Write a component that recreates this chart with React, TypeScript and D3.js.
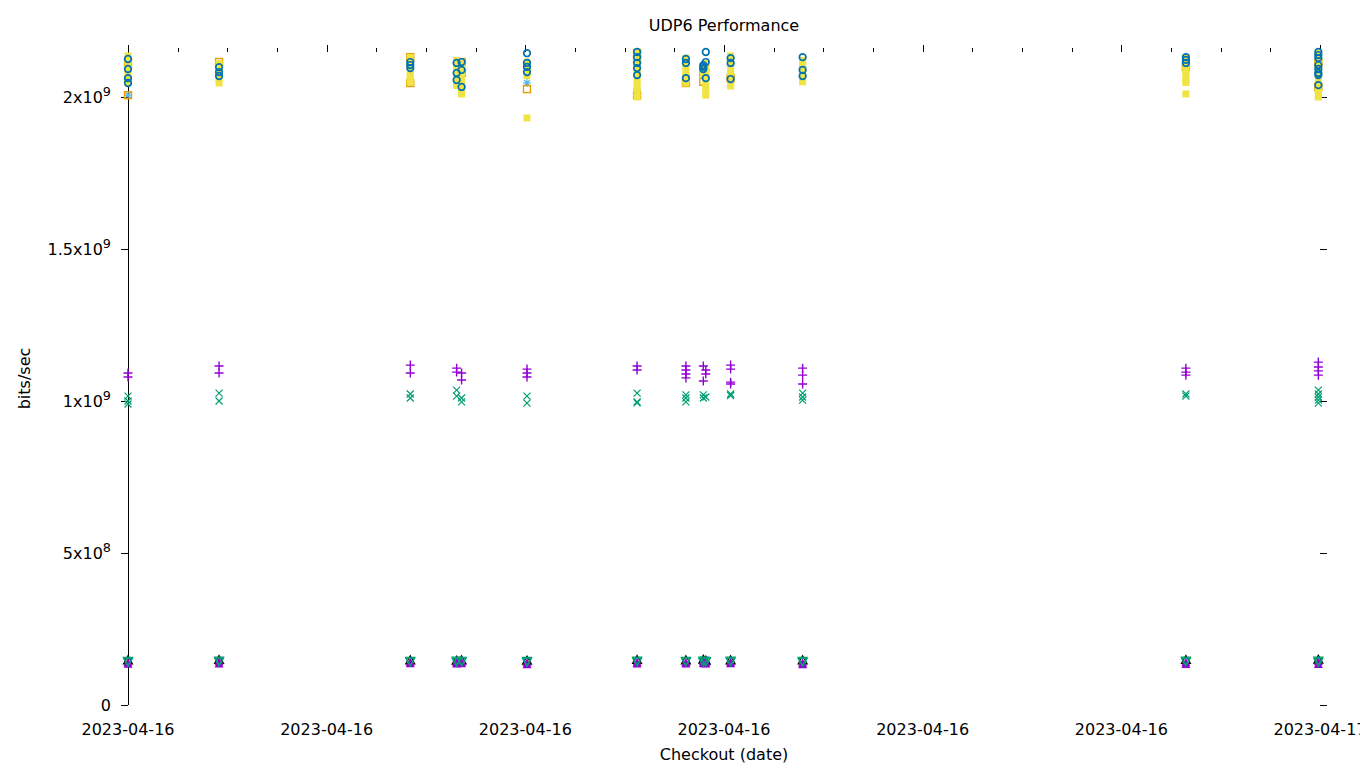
import * as d3 from 'd3';
import React, { Component } from 'react';

// checkout times (all on 2023-04-16)
const runTimes = [
    '00:00', '01:50', '05:41', '06:37', '06:43', '08:02', '10:15',
    '11:14', '11:35', '11:38', '12:08', '13:35', '21:18', '23:58',
];

// one row per checkout time, several runs each
const plusSeries = [
    [1.092e9, 1.079e9], [1.115e9, 1.092e9], [1.118e9, 1.092e9], [1.108e9, 1.095e9],
    [1.092e9, 1.069e9], [1.105e9, 1.092e9, 1.079e9], [1.115e9, 1.102e9],
    [1.115e9, 1.102e9, 1.089e9, 1.076e9], [1.115e9, 1.066e9], [1.102e9, 1.089e9],
    [1.118e9, 1.105e9, 1.062e9, 1.056e9], [1.108e9, 1.085e9, 1.056e9],
    [1.108e9, 1.095e9, 1.085e9], [1.128e9, 1.112e9, 1.099e9, 1.085e9],
];
const crossSeries = [
    [1.016e9, 1.0e9, 0.99e9], [1.026e9, 1.0e9], [1.023e9, 1.01e9], [1.036e9, 1.016e9],
    [1.01e9, 0.997e9], [1.016e9, 0.993e9], [1.026e9, 0.997e9, 0.994e9],
    [1.02e9, 1.01e9, 0.997e9], [1.02e9, 1.01e9], [1.013e9], [1.023e9, 1.018e9],
    [1.026e9, 1.013e9, 1.003e9], [1.023e9, 1.016e9],
    [1.036e9, 1.023e9, 1.013e9, 1.003e9, 0.993e9],
];
const starSeries = [
    [2.046e9, 2.006e9], [2.105e9], [2.046e9], [2.056e9], [2.07e9], [2.046e9],
    [2.026e9, 2.01e9], [2.072e9, 2.049e9], [2.07e9], [2.09e9], [2.105e9], [2.1e9],
    [2.09e9], [2.08e9],
];
const openSquareSeries = [
    [2.115e9, 2.006e9], [2.115e9], [2.131e9, 2.046e9], [], [2.115e9, 2.08e9], [2.026e9],
    [2.145e9, 2.125e9, 2.006e9], [2.046e9], [2.079e9, 2.05e9], [], [2.062e9], [],
    [2.099e9], [2.112e9, 2.033e9],
];
const filledSquareSeries = [
    [2.135e9, 2.12e9, 2.105e9, 2.09e9, 2.075e9, 2.06e9, 2.048e9],
    [2.11e9, 2.098e9, 2.085e9, 2.072e9, 2.06e9, 2.046e9],
    [2.13e9, 2.115e9, 2.1e9, 2.085e9, 2.07e9, 2.058e9, 2.048e9],
    [2.12e9, 2.105e9, 2.09e9, 2.075e9, 2.06e9, 2.045e9, 2.038e9],
    [2.11e9, 2.095e9, 2.08e9, 2.065e9, 2.05e9, 2.035e9, 2.02e9, 2.01e9],
    [2.115e9, 2.1e9, 2.085e9, 2.07e9, 1.931e9],
    [2.148e9, 2.135e9, 2.12e9, 2.105e9, 2.09e9, 2.075e9, 2.06e9, 2.045e9, 2.03e9, 2.015e9, 2.0e9],
    [2.128e9, 2.115e9, 2.1e9, 2.085e9, 2.07e9, 2.058e9, 2.046e9],
    [2.09e9, 2.075e9],
    [2.11e9, 2.095e9, 2.08e9, 2.065e9, 2.05e9, 2.035e9, 2.02e9, 2.006e9],
    [2.135e9, 2.12e9, 2.105e9, 2.09e9, 2.075e9, 2.06e9, 2.045e9, 2.036e9],
    [2.12e9, 2.105e9, 2.09e9, 2.075e9, 2.06e9, 2.05e9],
    [2.13e9, 2.115e9, 2.1e9, 2.085e9, 2.07e9, 2.055e9, 2.048e9, 2.01e9],
    [2.145e9, 2.13e9, 2.115e9, 2.1e9, 2.085e9, 2.07e9, 2.055e9, 2.04e9, 2.025e9, 2.01e9, 2.0e9],
];
const circleSeries = [
    [2.125e9, 2.092e9, 2.062e9, 2.046e9], [2.098e9, 2.082e9, 2.069e9],
    [2.115e9, 2.105e9, 2.095e9], [2.112e9, 2.079e9, 2.056e9], [2.115e9, 2.089e9, 2.033e9],
    [2.144e9, 2.112e9, 2.099e9, 2.082e9], [2.148e9, 2.131e9, 2.112e9, 2.095e9, 2.072e9],
    [2.125e9, 2.112e9, 2.062e9], [2.105e9, 2.099e9, 2.092e9], [2.148e9, 2.115e9, 2.062e9],
    [2.128e9, 2.112e9, 2.059e9], [2.131e9, 2.089e9, 2.069e9], [2.131e9, 2.122e9, 2.112e9],
    [2.148e9, 2.138e9, 2.128e9, 2.105e9, 2.092e9, 2.079e9, 2.072e9, 2.039e9],
];
const triangleSeries = [
    [1.47e8], [1.48e8], [1.47e8], [1.46e8], [1.47e8], [1.46e8], [1.48e8],
    [1.47e8], [1.49e8], [1.46e8], [1.47e8], [1.47e8], [1.48e8], [1.49e8],
];
const filledTriangleSeries = [
    [1.40e8, 1.34e8], [1.42e8, 1.35e8], [1.41e8, 1.36e8], [1.40e8, 1.35e8], [1.41e8, 1.36e8],
    [1.39e8, 1.32e8], [1.41e8, 1.35e8], [1.40e8, 1.35e8], [1.42e8, 1.36e8], [1.40e8, 1.35e8],
    [1.41e8, 1.36e8], [1.38e8, 1.32e8], [1.40e8, 1.33e8], [1.42e8, 1.33e8],
];
const invTriangleSeries = [
    [1.45e8, 1.42e8], [1.46e8, 1.43e8], [1.45e8, 1.43e8], [1.46e8, 1.42e8], [1.45e8, 1.43e8],
    [1.45e8, 1.42e8], [1.46e8, 1.43e8], [1.45e8, 1.43e8], [1.46e8, 1.42e8], [1.45e8, 1.43e8],
    [1.46e8, 1.43e8], [1.45e8, 1.42e8], [1.46e8, 1.43e8], [1.46e8, 1.42e8],
];

const yTickValues = [0, 5e8, 1e9, 1.5e9, 2e9];
const yTickMantissa = ['0', '5', '1', '1.5', '2'];
const yTickExponent = ['', '8', '9', '9', '9'];

const series = [
    { shape: 'plus', colour: '#9400d3', data: plusSeries },
    { shape: 'cross', colour: '#009e73', data: crossSeries },
    { shape: 'star', colour: '#56b4e9', data: starSeries },
    { shape: 'square', colour: '#e69f00', data: openSquareSeries },
    { shape: 'fsquare', colour: '#f0e442', data: filledSquareSeries },
    { shape: 'circle', colour: '#0072b2', data: circleSeries },
    { shape: 'triangle', colour: '#000000', data: triangleSeries },
    { shape: 'ftriangle', colour: '#9400d3', data: filledTriangleSeries },
    { shape: 'itriangle', colour: '#009e73', data: invTriangleSeries },
];

const parseTime = d3.timeParse('%Y-%m-%d %H:%M');
const FONT = '"DejaVu Sans", sans-serif';

function marker(shape: string, cx: number, cy: number, c: string, key: string) {
    const sw = 1.2;
    switch (shape) {
        case 'plus':
            return <path key={key} d={`M${cx - 4.5},${cy}H${cx + 4.5}M${cx},${cy - 4.5}V${cy + 4.5}`} stroke={c} strokeWidth={1.4} fill="none" />;
        case 'cross':
            return <path key={key} d={`M${cx - 3.5},${cy - 3.5}L${cx + 3.5},${cy + 3.5}M${cx - 3.5},${cy + 3.5}L${cx + 3.5},${cy - 3.5}`} stroke={c} strokeWidth={sw} fill="none" />;
        case 'star':
            return <path key={key} d={`M${cx - 4},${cy}H${cx + 4}M${cx},${cy - 4}V${cy + 4}M${cx - 3},${cy - 3}L${cx + 3},${cy + 3}M${cx - 3},${cy + 3}L${cx + 3},${cy - 3}`} stroke={c} strokeWidth={sw} fill="none" />;
        case 'square':
            return <rect key={key} x={cx - 3.5} y={cy - 3.5} width={7} height={7} stroke={c} strokeWidth={1.4} fill="none" />;
        case 'fsquare':
            return <rect key={key} x={cx - 3.5} y={cy - 3.5} width={7} height={7} fill={c} />;
        case 'circle':
            return <circle key={key} cx={cx} cy={cy} r={3.3} stroke={c} strokeWidth={1.7} fill="none" />;
        case 'triangle':
            return <path key={key} d={`M${cx},${cy - 4.5}L${cx + 4.5},${cy + 3.5}L${cx - 4.5},${cy + 3.5}Z`} stroke={c} strokeWidth={sw} fill="none" />;
        case 'ftriangle':
            return <path key={key} d={`M${cx},${cy - 4.5}L${cx + 4.5},${cy + 3.5}L${cx - 4.5},${cy + 3.5}Z`} fill={c} />;
        default:
            return <path key={key} d={`M${cx},${cy + 4.5}L${cx + 4.5},${cy - 3.5}L${cx - 4.5},${cy - 3.5}Z`} stroke={c} strokeWidth={sw} fill="none" />;
    }
}

class App extends Component {
    public render() {
        const left = 128, right = 1320, top = 52, bottom = 705;
        const times = runTimes.map((t) => parseTime('2023-04-16 ' + t) as Date);
        const start = parseTime('2023-04-16 00:00') as Date;
        const end = parseTime('2023-04-17 00:00') as Date;
        const xScale = d3.scaleTime().domain([start, end]).range([left, right]);
        const maxVal = d3.max(series, (s) => d3.max(s.data, (row) => d3.max(row))) as number;
        const yScale = d3.scaleLinear().domain([0, maxVal]).range([bottom, top]);

        const majorTicks = xScale.ticks(d3.timeHour.every(4) as d3.TimeInterval);
        const minorTicks = xScale.ticks(d3.timeHour.every(1) as d3.TimeInterval);
        const fmt = d3.timeFormat('%Y-%m-%d');
        // snap axis lines onto whole pixels so they stay black
        const px = (v: number) => Math.round(v) + 0.5;

        const marks: any[] = [];
        series.forEach((s, si) => {
            s.data.forEach((row, gi) => {
                row.forEach((v, vi) => {
                    marks.push(marker(s.shape, xScale(times[gi]), yScale(v), s.colour, `${si}-${gi}-${vi}`));
                });
            });
        });

        return (
            <svg width={1360} height={768} style={{ position: 'absolute', left: 0, top: 0 }} fontFamily={FONT}>
                <rect width={1360} height={768} fill="#fff" />
                <text x={(left + right) / 2} y={31} textAnchor="middle" fontSize={16}>UDP6 Performance</text>
                <text transform={`translate(30,${(top + bottom) / 2}) rotate(-90)`} textAnchor="middle" fontSize={16}>bits/sec</text>
                <text x={(left + right) / 2} y={760} textAnchor="middle" fontSize={16}>Checkout (date)</text>

                <g shapeRendering="crispEdges" stroke="#000">
                    <line x1={px(left)} x2={px(left)} y1={top - 7} y2={bottom} />
                    {yTickValues.map((v, i) => (
                        <g key={'yt' + i}>
                            <line x1={left - 7} x2={left} y1={px(yScale(v))} y2={px(yScale(v))} />
                            <line x1={right} x2={right + 7} y1={px(yScale(v))} y2={px(yScale(v))} />
                        </g>
                    ))}
                    {minorTicks.map((t, i) => (
                        <line key={'xm' + i} x1={px(xScale(t))} x2={px(xScale(t))} y1={top} y2={top - 4} />
                    ))}
                    {majorTicks.map((t, i) => (
                        <line key={'xt' + i} x1={px(xScale(t))} x2={px(xScale(t))} y1={top} y2={top - 7} />
                    ))}
                </g>

                {yTickValues.map((v, i) => (
                    <text key={'yl' + i} x={111} y={yScale(v) + 6} textAnchor="end" fontSize={16}>
                        {yTickExponent[i] ? `${yTickMantissa[i]}x10` : yTickMantissa[i]}
                        {yTickExponent[i] ? <tspan dy={-7} fontSize={12.8}>{yTickExponent[i]}</tspan> : null}
                    </text>
                ))}
                {majorTicks.map((t, i) => (
                    <text key={'xl' + i} x={xScale(t)} y={735} textAnchor="middle" fontSize={16}>{fmt(t)}</text>
                ))}

                {marks}
            </svg>
        );
    }
}

export default App;
